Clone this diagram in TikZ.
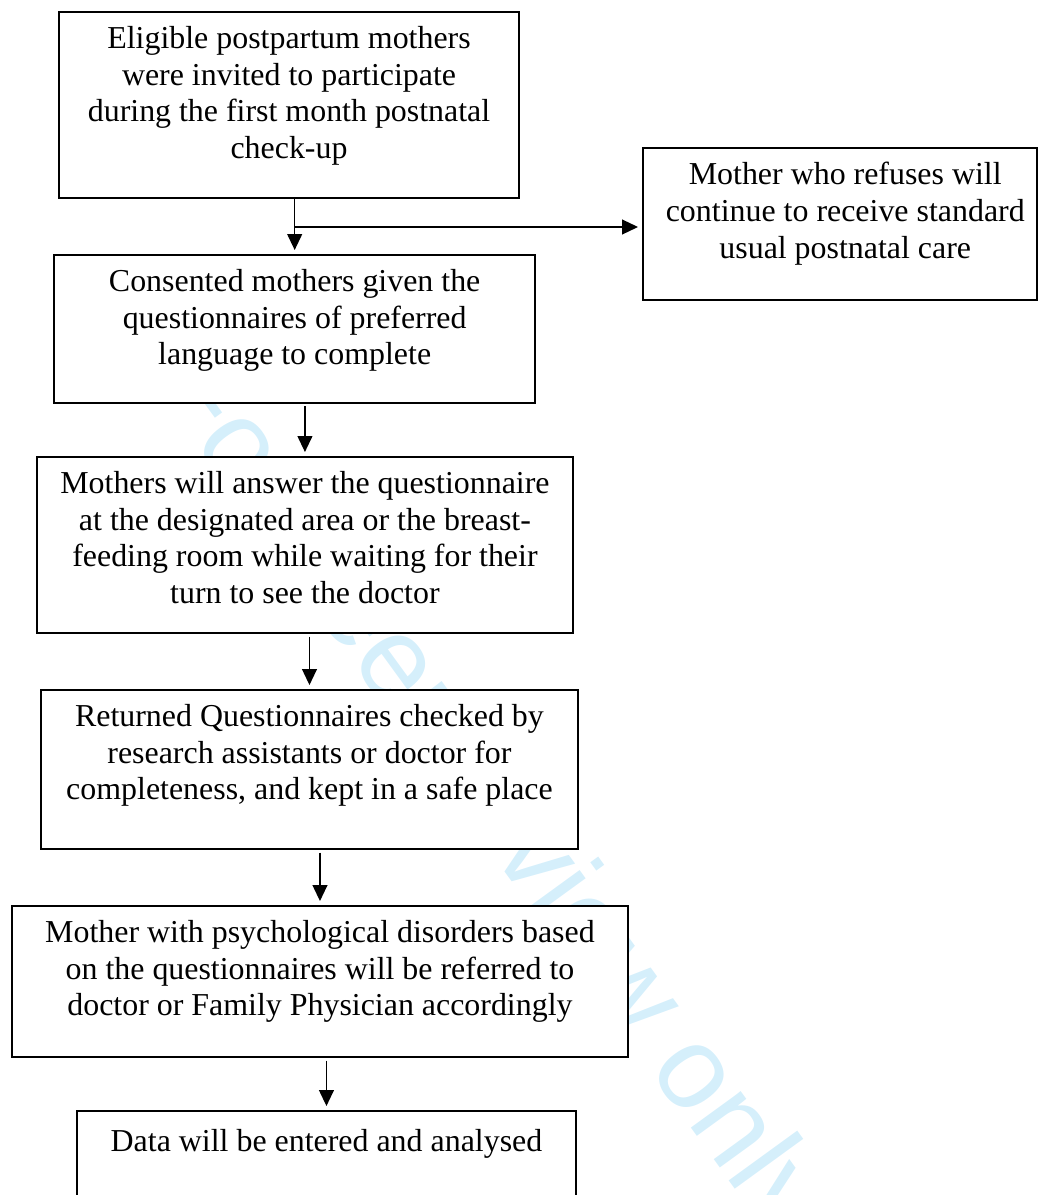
\documentclass[tikz,border=0pt]{standalone}
\usepackage{fontspec}
\setmainfont{Liberation Serif}
\newfontfamily\wmfont{Liberation Sans}
\usetikzlibrary{positioning,arrows.meta}
\definecolor{wmblue}{RGB}{213,239,251}

\begin{document}
\begin{tikzpicture}[x=0.376pt, y=-0.376pt,
                    box/.style={draw, line width=0.75pt, fill=white, anchor=north west, inner sep=0pt},
                    txt/.style={align=center, inner sep=0pt, font=\fontsize{12}{13.8}\selectfont, execute at begin node=\strut},
                    arr/.style={-{Triangle[length=6pt,width=5.6pt]}, line width=0.5pt, shorten >=1.5pt}]

\clip (0,0) rectangle (1038,1195);

\node[wmblue, rotate=-54, inner sep=0pt, font=\wmfont\fontsize{44}{50}\selectfont] (wm) at (487,796) {For peer review only};

\node[box, minimum width=173pt,   minimum height=69.9pt] (elig)   at (58,11)   {};
\node[box, minimum width=148.1pt, minimum height=57.2pt] (refuse) at (642,147) {};
\node[box, minimum width=181pt,   minimum height=55.5pt] (cons)   at (53,254)  {};
\node[box, minimum width=201.5pt, minimum height=66.2pt] (answer) at (36,456)  {};
\node[box, minimum width=201.9pt, minimum height=59.8pt] (check)  at (40,689)  {};
\node[box, minimum width=231.6pt, minimum height=56.8pt] (refer)  at (11,905)  {};
\node[box, minimum width=187.6pt, minimum height=45pt]   (data)   at (76,1110) {};

\node[txt, below=5.6pt of elig.north] (elig-t) {Eligible postpartum mothers\\were invited to participate\\during the first month postnatal\\check-up};
\node[txt, below=5.6pt of refuse.north, xshift=2pt] (refuse-t) {Mother who refuses will\\continue to receive standard\\usual postnatal care};
\node[txt, below=5.6pt of cons.north] (cons-t) {Consented mothers given the\\questionnaires of preferred\\language to complete};
\node[txt, below=5.6pt of answer.north] (answer-t) {Mothers will answer the questionnaire\\at the designated area or the breast-\\feeding room while waiting for their\\turn to see the doctor};
\node[txt, below=5.6pt of check.north] (check-t) {Returned Questionnaires checked by\\research assistants or doctor for\\completeness, and kept in a safe place};
\node[txt, below=5.6pt of refer.north] (refer-t) {Mother with psychological disorders based\\on the questionnaires will be referred to\\doctor or Family Physician accordingly};
\node[txt, below=5.6pt of data.north] (data-t) {Data will be entered and analysed};

\coordinate (split) at (294,227);

\draw[arr] (cons.north |- elig.south) -- (cons.north);
\draw[arr] (split) -- (split -| refuse.west);
\draw[arr, shorten <=1pt] (answer.north |- cons.south) -- (answer.north);
\draw[arr, shorten <=1pt] (check.north |- answer.south) -- (check.north);
\draw[arr, shorten <=1pt] (refer.north |- check.south) -- (refer.north);
\draw[arr, shorten <=1pt] (data.north |- refer.south) -- (data.north);
\end{tikzpicture}
\end{document}
